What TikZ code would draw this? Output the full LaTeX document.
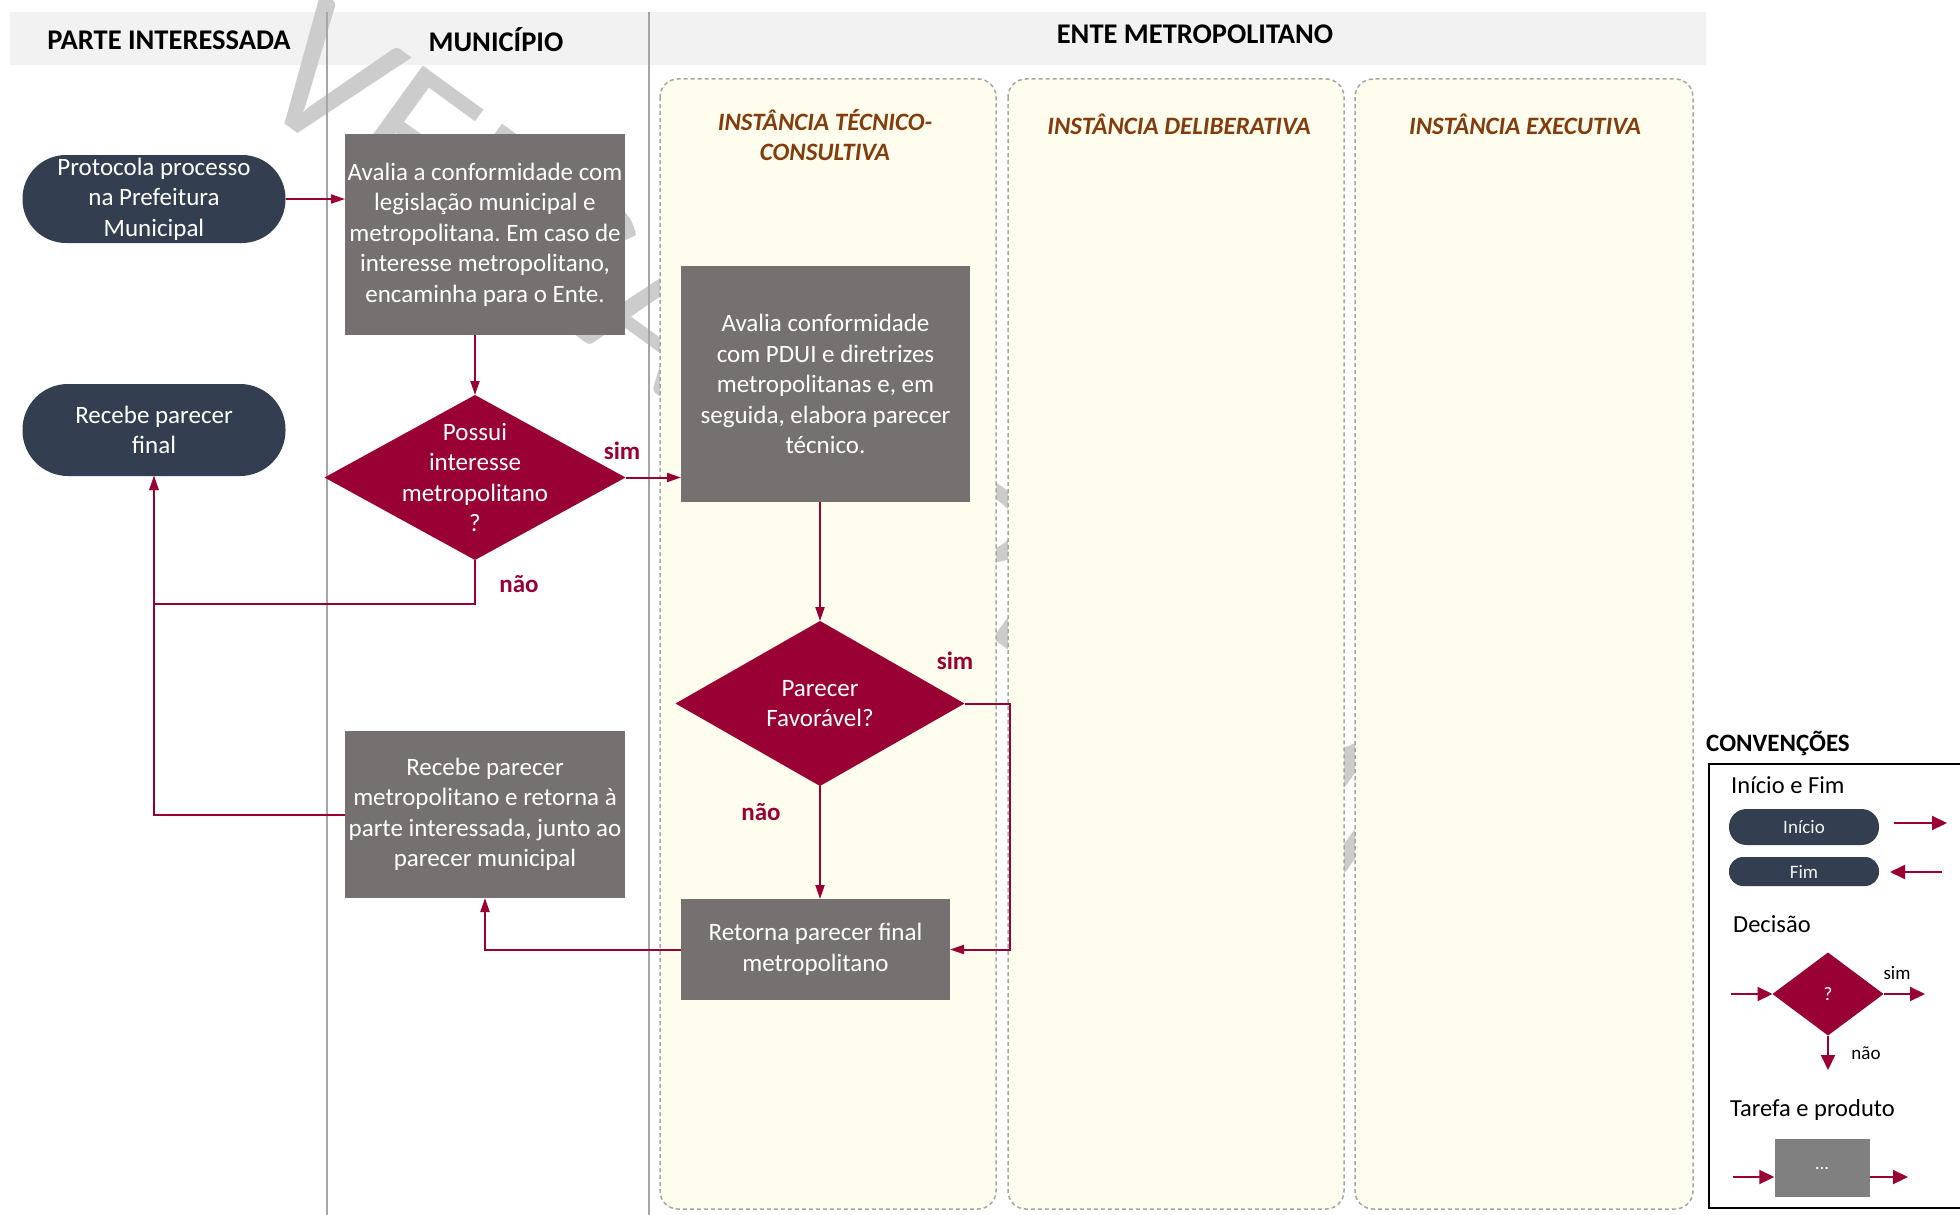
\documentclass[tikz,border=0pt]{standalone}
\usepackage{fontspec}
\setmainfont{Carlito}
\frenchspacing
\usetikzlibrary{shapes.geometric,arrows.meta}
\definecolor{crim}{HTML}{990033}
\definecolor{navy}{HTML}{333F50}
\definecolor{taskgrey}{HTML}{767171}
\definecolor{leggrey}{HTML}{808080}
\definecolor{cream}{HTML}{FFFDEE}
\definecolor{brownt}{HTML}{843C0C}
\definecolor{hdr}{HTML}{F2F2F2}
\definecolor{laneline}{HTML}{A6A6A6}
\definecolor{wmcol}{HTML}{CCCCCC}
\begin{document}
\begin{tikzpicture}[x=1pt,y=-1pt,
  txt/.style={font=\fontsize{25}{30.5}\selectfont, align=center, text=white},
  startend/.style={rectangle, fill=navy, inner sep=0pt, outer sep=0pt, txt},
  taskbox/.style={rectangle, fill=taskgrey, inner sep=0pt, outer sep=0pt, txt},
  dec/.style={diamond, fill=crim, inner sep=0pt, outer sep=0pt},
  dectext/.style={txt, inner sep=0pt},
  conn/.style={draw=crim, line width=2pt, -{Triangle[length=14pt,width=9pt]}},
  legconn/.style={draw=crim, line width=2pt, -{Triangle[length=15pt,width=14pt]}},
  lbl/.style={font=\bfseries\fontsize{25}{30}\selectfont, text=crim, inner sep=0pt},
  hdrtext/.style={font=\bfseries\fontsize{28.5}{34}\selectfont, inner sep=0pt},
  paneltitle/.style={font=\bfseries\itshape\fontsize{25}{30}\selectfont, text=brownt, align=center, inner sep=0pt},
  panel/.style={draw=laneline, dash pattern=on 4pt off 3pt, line width=1.5pt, fill=cream, rounded corners=18pt},
  legtext/.style={font=\fontsize{24.5}{29}\selectfont, anchor=west, inner sep=0pt},
  legsmall/.style={font=\fontsize{19}{22}\selectfont, inner sep=0pt}
]
\useasboundingbox (0,0) rectangle (1960,1215);
\fill[white] (0,0) rectangle (1960,1215);

% header band
\fill[hdr] (10,12) rectangle (1706,65);

% watermark (mostly hidden behind the lanes)
\node[font=\fontsize{200}{200}\selectfont, text=wmcol, rotate=-36, anchor=base west, inner sep=0pt] (wmk) at (245,95) {VERSÃO PRELIMINAR};

% header texts
\node[hdrtext] (hPI) at (169,40) {PARTE INTERESSADA};
\node[hdrtext] (hMU) at (496,40) {MUNICÍPIO};
\node[hdrtext] (hEM) at (1195,34) {ENTE METROPOLITANO};

% lane lines
\draw[laneline, line width=1.2pt] (327,12) -- (327,1215);
\draw[laneline, line width=1.2pt] (649,12) -- (649,1215);

% panels
\draw[panel] (660,79) rectangle (996,1209);
\draw[panel] (1008,79) rectangle (1344,1209);
\draw[panel] (1355,79) rectangle (1693,1209);
\node[paneltitle] (t1) at (825,135) {INSTÂNCIA TÉCNICO-\\CONSULTIVA};
\node[paneltitle] (t2) at (1179,124) {INSTÂNCIA DELIBERATIVA};
\node[paneltitle] (t3) at (1525,124) {INSTÂNCIA EXECUTIVA};

% nodes
\node[startend, rounded corners=43.5pt, minimum width=263pt, minimum height=88pt] (prot) at (154,199) {Protocola processo\\na Prefeitura\\Municipal};
\node[startend, rounded corners=45.5pt, minimum width=263pt, minimum height=92pt] (recfin) at (154,430) {Recebe parecer\\final};
\node[taskbox, minimum width=280pt, minimum height=201pt] (aval1) at (485,234.5) {Avalia a conformidade com\\legislação municipal e\\metropolitana. Em caso de\\interesse metropolitano,\\encaminha para o Ente.};
\node[dec, minimum width=301pt, minimum height=165pt, label={[dectext]center:{Possui\\interesse\\metropolitano\\?}}] (d1) at (475,477.5) {};
\node[taskbox, minimum width=289pt, minimum height=236pt] (aval2) at (825.5,384) {Avalia conformidade\\com PDUI e diretrizes\\metropolitanas e, em\\seguida, elabora parecer\\técnico.};
\node[dec, minimum width=289pt, minimum height=165pt, label={[dectext]center:{Parecer\\Favorável?}}] (d2) at (820,703.5) {};
\node[taskbox, minimum width=280pt, minimum height=167pt] (receb) at (485,814.5) {Recebe parecer\\metropolitano e retorna à\\parte interessada, junto ao\\parecer municipal};
\node[taskbox, minimum width=269pt, minimum height=101pt] (ret) at (815.5,949.5) {Retorna parecer final\\metropolitano};

% connectors
\coordinate (nbend) at (0,604);
\coordinate (sbend) at (1010,0);
\draw[conn] (prot.east) -- (prot.east -| aval1.west);
\draw[conn] (aval1.south -| d1.north) -- (d1.north);
\draw[conn] (d1.east) -- (d1.east -| aval2.west);
\draw[conn] (d1.south) -- (d1.south |- nbend) -| (recfin.south);
\draw[conn] (receb.west) -| (recfin.south);
\draw[conn] (aval2.south -| d2.north) -- (d2.north);
\draw[conn] (d2.east) -- (d2.east -| sbend) |- (ret.east);
\draw[conn] (d2.south) -- (d2.south |- ret.north);
\draw[conn] (ret.west) -| (receb.south);

% labels
\node[lbl] (sim1) at (622,451) {sim};
\node[lbl] (nao1) at (519,584) {não};
\node[lbl] (sim2) at (955,661) {sim};
\node[lbl] (nao2) at (761,812) {não};

% legend
\node[font=\bfseries\fontsize{25}{30}\selectfont, anchor=west, inner sep=0pt] (conv) at (1706,743) {CONVENÇÕES};
\draw[line width=2.5pt] (1709,764) rectangle (1975,1208);
\node[legtext] (lIF) at (1731,785) {Início e Fim};
\node[startend, rounded corners=17.5pt, minimum width=150pt, minimum height=36pt, legsmall, text=hdr] (legIni) at (1804,827) {Início};
\node[startend, rounded corners=14pt, minimum width=150pt, minimum height=29pt, legsmall, text=hdr] (legFim) at (1804,871.5) {Fim};
\coordinate (la1) at (1894,823);
\coordinate (la2) at (1947,823);
\coordinate (la3) at (1942,872);
\coordinate (la4) at (1890,872);
\draw[legconn] (la1) -- (la2);
\draw[legconn] (la3) -- (la4);
\node[legtext] (lDec) at (1733,924) {Decisão};
\node[dec, minimum width=111pt, minimum height=83pt, legsmall, text=white] (legDec) at (1828,994) {?};
\coordinate (lb1) at (1731,994);
\coordinate (lb2) at (1925,994);
\coordinate (lb3) at (1828,1070);
\draw[legconn] (lb1) -- (legDec.west);
\draw[legconn] (legDec.east) -- (lb2);
\draw[legconn] (legDec.south) -- (lb3);
\node[legsmall] (lsim) at (1897,973) {sim};
\node[legsmall] (lnao) at (1866,1053) {não};
\node[legtext] (lTP) at (1730,1110) {Tarefa e produto};
\node[rectangle, fill=leggrey, inner sep=0pt, minimum width=95pt, minimum height=58pt, legsmall, text=white] (legTask) at (1822,1168) {...};
\coordinate (lc1) at (1733,1177);
\coordinate (lc2) at (1908,1177);
\draw[legconn] (lc1) -- (lc1 -| legTask.west);
\draw[legconn] (lc2 -| legTask.east) -- (lc2);
\end{tikzpicture}
\end{document}
